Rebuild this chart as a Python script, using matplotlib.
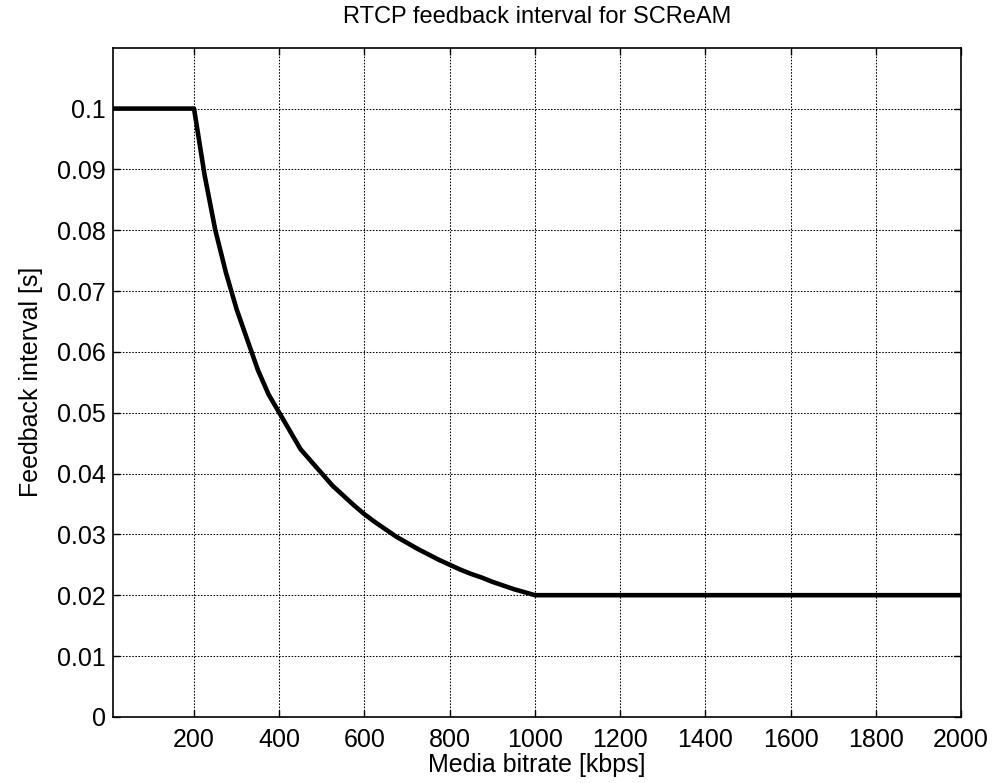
import matplotlib
matplotlib.use("Agg")
import matplotlib.pyplot as plt

plt.rcParams["font.family"] = ["Liberation Sans", "DejaVu Sans"]

# media bitrate [kbps] and feedback interval [s]
bitrate = [10, 200, 225, 250, 275, 300, 325, 350, 375, 400, 425, 450, 475,
           500, 525, 550, 575, 600, 625, 650, 675, 700, 725, 750, 775, 800,
           825, 850, 875, 900, 925, 950, 975, 1000, 2000]
interval = [0.1, 0.1, 0.089, 0.080, 0.073, 0.067, 0.062, 0.057, 0.053, 0.050,
            0.047, 0.044, 0.042, 0.040, 0.038, 0.0364, 0.0348, 0.0333, 0.032,
            0.0308, 0.0296, 0.0286, 0.0276, 0.0267, 0.0258, 0.025, 0.0242,
            0.0235, 0.0229, 0.0222, 0.0216, 0.021, 0.0205, 0.020, 0.020]

xticks = [200, 400, 600, 800, 1000, 1200, 1400, 1600, 1800, 2000]
yticks = [0, 0.01, 0.02, 0.03, 0.04, 0.05, 0.06, 0.07, 0.08, 0.09, 0.1]
ytick_labels = ["0", "0.01", "0.02", "0.03", "0.04", "0.05", "0.06", "0.07",
                "0.08", "0.09", "0.1"]

fig = plt.figure(figsize=(9.96, 7.83), dpi=100)
ax = fig.add_axes([0.1135, 0.0845, 0.8515, 0.8545])

ax.plot(bitrate, interval, color="black", linewidth=3.3)

ax.set_xlim(10, 2000)
ax.set_ylim(0, 0.11)
ax.set_xticks(xticks)
ax.set_yticks(yticks)
ax.set_yticklabels(ytick_labels)
ax.tick_params(direction="in", top=True, right=True, labelsize=18, length=5,
               width=1)
ax.tick_params(axis="x", pad=8)
ax.tick_params(axis="y", pad=5)
ax.grid(True, linestyle=(0, (1.5, 1.5)), color="black", linewidth=0.75)
for s in ax.spines.values():
    s.set_linewidth(1.2)

ax.set_xlabel("Media bitrate [kbps]", fontsize=18, labelpad=1)
ax.set_ylabel("Feedback interval [s]", fontsize=18, labelpad=10)
ax.set_title("RTCP feedback interval for SCReAM", fontsize=17, pad=18)

fig.savefig("out.png", dpi=100)
